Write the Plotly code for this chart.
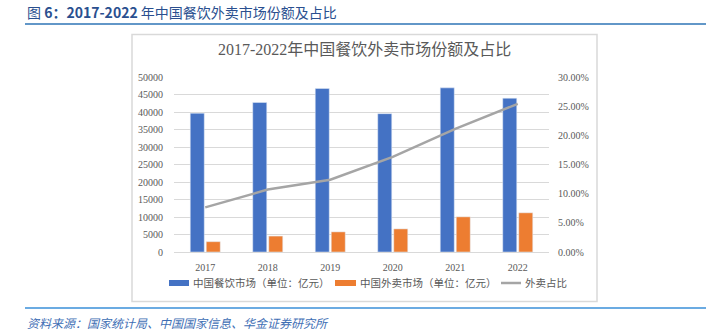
import plotly.graph_objects as go

# Data (亿元 / share)
years = ["2017", "2018", "2019", "2020", "2021", "2022"]
catering = [39650, 42716, 46721, 39527, 46895, 43941]
takeout = [2950, 4550, 5750, 6600, 10050, 11200]
share = [0.0765, 0.107, 0.124, 0.163, 0.211, 0.254]
series_names = ["中国餐饮市场（单位：亿元）", "中国外卖市场（单位：亿元）", "外卖占比"]
series_colors = ["#4472C4", "#ED7D31", "#A5A5A5"]

W, H = 715, 336
PL, PR, PT, PB = 174, 549, 77, 252  # plot area in pixels


def px(x):
    return (x - PL) / (PR - PL)


def py(y):
    return (PB - y) / (PB - PT)


serif = "Liberation Serif, Noto Sans CJK SC, serif"
grey_txt = "#595959"

fig = go.Figure()
fig.add_trace(go.Bar(x=years, y=catering, name=series_names[0],
                     marker=dict(color=series_colors[0])))
fig.add_trace(go.Bar(x=years, y=takeout, name=series_names[1],
                     marker=dict(color=series_colors[1])))
fig.add_trace(go.Scatter(x=years, y=share, name=series_names[2], yaxis="y2",
                         mode="lines", line=dict(color=series_colors[2], width=2.5)))

shapes = [
    # chart frame
    dict(type="rect", xref="paper", yref="paper", x0=px(132), x1=px(597),
         y0=py(301.5), y1=py(34.5), line=dict(color="#D9D9D9", width=1.5),
         fillcolor="rgba(0,0,0,0)", layer="below"),
    # header rule
    dict(type="line", xref="paper", yref="paper", x0=px(25), x1=px(706),
         y0=py(24), y1=py(24), line=dict(color="#2E75B6", width=1.5)),
    # footer rule
    dict(type="line", xref="paper", yref="paper", x0=px(25), x1=px(706),
         y0=py(308), y1=py(308), line=dict(color="#3A8FD8", width=1.5)),
]

annotations = [
    dict(text="图 <b>6：2017-2022</b> 年中国餐饮外卖市场份额及占比",
         xref="paper", yref="paper", x=px(25), y=py(12), xanchor="left",
         yanchor="middle", showarrow=False,
         font=dict(family="Noto Sans CJK SC, sans-serif", size=14, color="#2A4F8F")),
    dict(text="2017-2022年中国餐饮外卖市场份额及占比",
         xref="paper", yref="paper", x=px(364), y=py(49), xanchor="center",
         yanchor="middle", showarrow=False,
         font=dict(family=serif, size=16, color=grey_txt)),
    dict(text="<i>资料来源：国家统计局、中国国家信息、华金证券研究所</i>",
         xref="paper", yref="paper", x=px(25), y=py(322), xanchor="left",
         yanchor="middle", showarrow=False,
         font=dict(family="Noto Sans CJK SC, sans-serif", size=12, color="#3F6FB5")),
]

# Legend row drawn below the plot: swatches + labels
legend_y = 283
legend_slots = [(169, 189), (335, 356), (501, 521)]
for i, (name, color, (x0, x1)) in enumerate(zip(series_names, series_colors, legend_slots)):
    if i < 2:
        shapes.append(dict(type="rect", xref="paper", yref="paper",
                           x0=px(x0), x1=px(x1), y0=py(legend_y + 3), y1=py(legend_y - 3),
                           fillcolor=color, line=dict(width=0)))
    else:
        shapes.append(dict(type="line", xref="paper", yref="paper",
                           x0=px(x0), x1=px(x1), y0=py(legend_y), y1=py(legend_y),
                           line=dict(color=color, width=2.5)))
    annotations.append(dict(text=name, xref="paper", yref="paper", x=px(x1 + 2),
                            y=py(legend_y), xanchor="left", yanchor="middle",
                            showarrow=False,
                            font=dict(family=serif, size=10.5, color=grey_txt)))

tickfont = dict(family=serif, size=10, color=grey_txt)

fig.update_layout(
    width=W, height=H,
    margin=dict(l=PL, r=W - PR, t=PT, b=H - PB, pad=0),
    paper_bgcolor="white", plot_bgcolor="white",
    barmode="group", bargap=0.488, bargroupgap=0.125,
    showlegend=False,
    xaxis=dict(type="category", showgrid=False, showline=True, linecolor="#D9D9D9",
               linewidth=1, ticks="", tickfont=tickfont, ticklabelstandoff=6),
    yaxis=dict(range=[0, 50000], dtick=5000, tickformat="d", showgrid=True,
               gridcolor="#D9D9D9", gridwidth=1, zeroline=False, showline=False,
               tickfont=tickfont, ticklabelstandoff=10),
    yaxis2=dict(range=[0, 0.30], dtick=0.05, tickformat=".2%", overlaying="y",
                side="right", showgrid=False, zeroline=False, showline=False,
                tickfont=tickfont, ticklabelstandoff=8),
    shapes=shapes,
    annotations=annotations,
)

fig.write_html("out.html")
